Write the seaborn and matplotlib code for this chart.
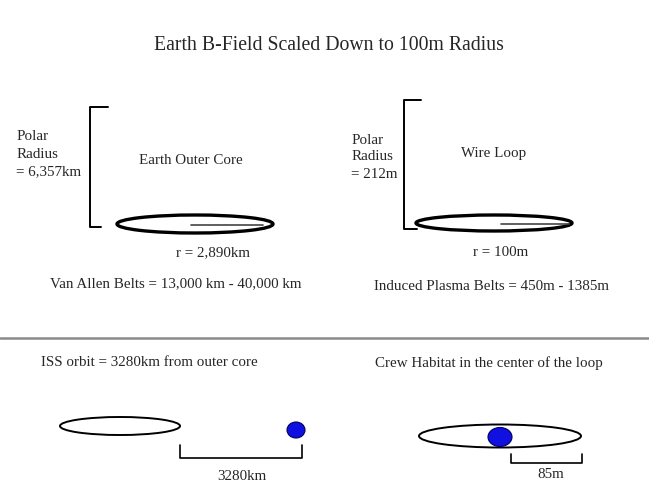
import numpy as np
import pandas as pd
import seaborn as sns
import matplotlib
matplotlib.use("Agg")
import matplotlib.pyplot as plt
from matplotlib.patches import Ellipse

# diagram text / values
title = "Earth B-Field Scaled Down to 100m Radius"
panel_names = ["Earth Outer Core", "Wire Loop"]
polar_radius = ["6,357km", "212m"]
loop_radius = ["2,890km", "100m"]
belt_labels = ["Van Allen Belts = 13,000 km - 40,000 km",
               "Induced Plasma Belts = 450m - 1385m"]
bottom_titles = ["ISS orbit = 3280km from outer core",
                 "Crew Habitat in the center of the loop"]
distance_labels = ["3280km", "85m"]

sns.set_theme(style="white")
plt.rcParams['font.family'] = ['Liberation Serif', 'DejaVu Serif']

fig = plt.figure(figsize=(6.49, 4.93), dpi=100)
ax = fig.add_axes([0, 0, 1, 1])
ax.set_xlim(0, 649)
ax.set_ylim(493, 0)
ax.axis("off")

fs = 10.8
ax.text(329, 45, title, ha="center", va="center", fontsize=14.2)

# top panels: bracket, labels, loop with radius line
brackets = [(90, 107, 227, 108, 101), (404, 100, 229, 421, 417)]
polar_xy = [(17, 137), (352, 140)]
name_xy = [(191, 161), (494, 153)]
loops = [(195, 224, 156, 18), (494, 223, 156, 16)]
radius_lines = [(191, 263, 225), (501, 569, 224)]
r_xy = [(213, 253), (501, 252)]
belt_xy = [(176, 284), (491, 286)]

for i in range(2):
    bx, y0, y1, xt, xb = brackets[i]
    ax.plot([xt, bx, bx, xb], [y0, y0, y1, y1], color="black", lw=1.4)
    px, py = polar_xy[i]
    ax.text(px, py, "Polar", ha="left", va="center", fontsize=fs)
    ax.text(px, py + 17, "Radius", ha="left", va="center", fontsize=fs)
    ax.text(px - 1, py + 35, "= " + polar_radius[i], ha="left", va="center", fontsize=fs)
    ax.text(*name_xy[i], panel_names[i], ha="center", va="center", fontsize=fs)
    cx, cy, w, h = loops[i]
    ax.add_patch(Ellipse((cx, cy), w, h, fill=False, ec="black", lw=2.4))
    x0, x1, ly = radius_lines[i]
    ax.plot([x0, x1], [ly, ly], color="#444444", lw=1.2)
    ax.text(*r_xy[i], "r = " + loop_radius[i], ha="center", va="center", fontsize=fs)
    ax.text(*belt_xy[i], belt_labels[i], ha="center", va="center", fontsize=fs)

# separator
ax.plot([0, 649], [338, 338], color="#8a8a8a", lw=1.8)

# bottom panels
btitle_xy = [(149, 362), (489, 363)]
bloops = [(120, 426, 120, 18), (500, 436, 162, 23)]
dots = [(296, 430, 18, 16), (500, 437, 24, 19)]
dist_brackets = [(180, 302, 458, 445), (511, 582, 463, 454)]
dist_xy = [(242, 477), (551, 475)]

for i in range(2):
    ax.text(*btitle_xy[i], bottom_titles[i], ha="center", va="center", fontsize=fs)
    cx, cy, w, h = bloops[i]
    ax.add_patch(Ellipse((cx, cy), w, h, fill=False, ec="black", lw=1.4))
    dx, dy, dw, dh = dots[i]
    ax.add_patch(Ellipse((dx, dy), dw, dh, fc="#1010e0", ec="#000060", lw=0.8))
    x0, x1, yb, yt = dist_brackets[i]
    ax.plot([x0, x0, x1, x1], [yt, yb, yb, yt], color="black", lw=1.2)
    ax.text(*dist_xy[i], distance_labels[i], ha="center", va="center", fontsize=fs)

fig.savefig("out.png", dpi=100)
